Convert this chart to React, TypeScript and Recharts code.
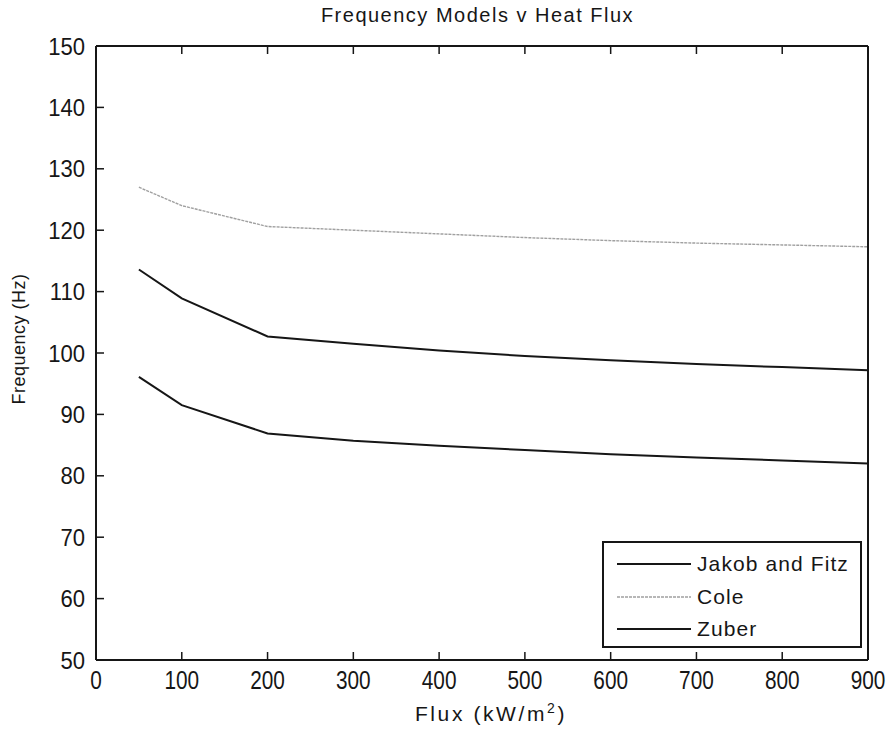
import { LineChart, Line, XAxis, YAxis } from "recharts";

const flux = [50, 100, 200, 300, 400, 500, 600, 700, 800, 900];
const jakobFitz = [113.6, 108.9, 102.7, 101.5, 100.4, 99.5, 98.8, 98.2, 97.7, 97.2];
const cole = [127.0, 124.0, 120.6, 120.0, 119.4, 118.8, 118.3, 117.9, 117.6, 117.3];
const zuber = [96.1, 91.5, 86.9, 85.7, 84.9, 84.2, 83.5, 83.0, 82.5, 82.0];

const xTicks = [0, 100, 200, 300, 400, 500, 600, 700, 800, 900];
const yTicks = [50, 60, 70, 80, 90, 100, 110, 120, 130, 140, 150];

const FONT = "'Liberation Sans', Arial, sans-serif";
const INK = "#161616";

const data = flux.map((f, i) => ({
  flux: f,
  jakob: jakobFitz[i],
  cole: cole[i],
  zuber: zuber[i],
}));

const SERIES = [
  { key: "jakob", name: "Jakob and Fitz", color: INK, width: 2, dash: undefined },
  { key: "cole", name: "Cole", color: "#a0a0a0", width: 1.4, dash: "3 1" },
  { key: "zuber", name: "Zuber", color: INK, width: 2, dash: undefined },
];

const TICK = 8;

function BottomTick({ x, y, payload }: any) {
  return (
    <g>
      <line x1={x} y1={y} x2={x} y2={y - TICK} stroke={INK} strokeWidth={1.5} />
      <text
        transform={`translate(${x},${y + 29}) scale(0.8,1)`}
        textAnchor="middle"
        fontSize={26}
        fill={INK}
        fontFamily={FONT}
      >
        {payload.value}
      </text>
    </g>
  );
}

function LeftTick({ x, y, payload }: any) {
  return (
    <g>
      <line x1={x} y1={y} x2={x + TICK} y2={y} stroke={INK} strokeWidth={1.5} />
      <text
        transform={`translate(${x - 11},${y + 8.5}) scale(0.92,1)`}
        textAnchor="end"
        fontSize={24}
        fill={INK}
        fontFamily={FONT}
      >
        {payload.value}
      </text>
    </g>
  );
}

function TopTick({ x, y }: any) {
  return <line x1={x} y1={y} x2={x} y2={y + TICK} stroke={INK} strokeWidth={1.5} />;
}

function RightTick({ x, y }: any) {
  return <line x1={x} y1={y} x2={x - TICK} y2={y} stroke={INK} strokeWidth={1.5} />;
}

function LegendBox() {
  return (
    <div
      style={{
        position: "absolute",
        left: 602,
        top: 541,
        border: "2px solid " + INK,
        background: "#fff",
        width: 260,
        height: 107,
        boxSizing: "border-box",
        paddingTop: 5,
        fontFamily: FONT,
        fontSize: 21,
        letterSpacing: 1.1,
        color: INK,
      }}
    >
      {SERIES.map((s) => (
        <div key={s.key} style={{ display: "flex", alignItems: "center", height: 32.5 }}>
          <svg width={80} height={10} style={{ marginLeft: 13 }}>
            <line x1={0} y1={5} x2={74} y2={5} stroke={s.color} strokeWidth={s.width} strokeDasharray={s.dash} />
          </svg>
          <span>{s.name}</span>
        </div>
      ))}
    </div>
  );
}

export default function App() {
  return (
    <div style={{ position: "absolute", left: 0, top: 0, width: 892, height: 734, background: "#fff" }}>
      <LineChart
        width={892}
        height={734}
        data={data}
        margin={{ top: 45, right: 23, bottom: 73, left: 36 }}
        style={{ position: "absolute", left: 0, top: 0 }}
      >
        <XAxis
          xAxisId="b"
          dataKey="flux"
          type="number"
          domain={[0, 900]}
          ticks={xTicks}
          height={1}
          tickSize={0}
          tickMargin={0}
          tickLine={false}
          axisLine={{ stroke: INK, strokeWidth: 2 }}
          tick={<BottomTick />}
          interval={0}
        />
        <XAxis
          xAxisId="t"
          orientation="top"
          dataKey="flux"
          type="number"
          domain={[0, 900]}
          ticks={xTicks}
          height={1}
          tickSize={0}
          tickMargin={0}
          tickLine={false}
          axisLine={{ stroke: INK, strokeWidth: 2 }}
          tick={<TopTick />}
          interval={0}
        />
        <YAxis
          yAxisId="l"
          type="number"
          domain={[50, 150]}
          ticks={yTicks}
          width={60}
          tickSize={0}
          tickMargin={0}
          tickLine={false}
          axisLine={{ stroke: INK, strokeWidth: 2 }}
          tick={<LeftTick />}
          interval={0}
        />
        <YAxis
          yAxisId="r"
          orientation="right"
          type="number"
          domain={[50, 150]}
          ticks={yTicks}
          width={1}
          tickSize={0}
          tickMargin={0}
          tickLine={false}
          axisLine={{ stroke: INK, strokeWidth: 2 }}
          tick={<RightTick />}
          interval={0}
        />
        {SERIES.map((s) => (
          <Line
            key={s.key}
            xAxisId="b"
            yAxisId="l"
            dataKey={s.key}
            name={s.name}
            type="linear"
            stroke={s.color}
            strokeWidth={s.width}
            strokeDasharray={s.dash}
            dot={false}
            activeDot={false}
            isAnimationActive={false}
          />
        ))}
      </LineChart>
      <div
        style={{
          position: "absolute",
          left: 0,
          width: 955,
          top: 4,
          textAlign: "center",
          fontFamily: FONT,
          fontSize: 20,
          letterSpacing: 1.5,
          color: INK,
        }}
      >
        Frequency Models v Heat Flux
      </div>
      <div
        style={{
          position: "absolute",
          left: 0,
          width: 982,
          top: 700,
          textAlign: "center",
          fontFamily: FONT,
          fontSize: 21,
          letterSpacing: 2.6,
          color: INK,
        }}
      >
        Flux (kW/m<sup style={{ fontSize: 14 }}>2</sup>)
      </div>
      <div
        style={{
          position: "absolute",
          left: 19,
          top: 339,
          transform: "translate(-50%, -50%) rotate(-90deg)",
          whiteSpace: "nowrap",
          fontFamily: FONT,
          fontSize: 18,
          letterSpacing: 0.5,
          color: INK,
        }}
      >
        Frequency (Hz)
      </div>
      <LegendBox />
    </div>
  );
}
